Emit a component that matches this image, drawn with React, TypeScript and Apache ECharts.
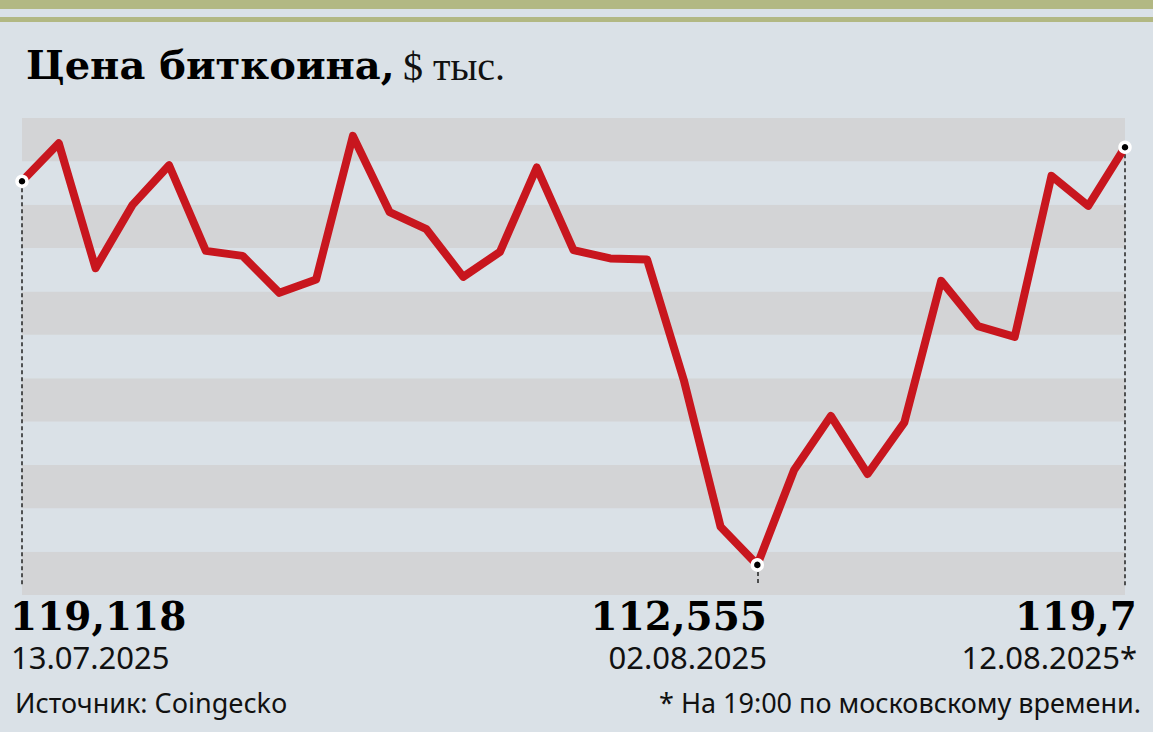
import React, { useEffect, useRef } from "react";
import * as echarts from "echarts";

const dates = [
  "13.07.2025","14.07.2025","15.07.2025","16.07.2025","17.07.2025","18.07.2025","19.07.2025",
  "20.07.2025","21.07.2025","22.07.2025","23.07.2025","24.07.2025","25.07.2025","26.07.2025",
  "27.07.2025","28.07.2025","29.07.2025","30.07.2025","31.07.2025","01.08.2025","02.08.2025",
  "03.08.2025","04.08.2025","05.08.2025","06.08.2025","07.08.2025","08.08.2025","09.08.2025",
  "10.08.2025","11.08.2025","12.08.2025",
];
const prices = [
  119.118, 119.768, 117.632, 118.709, 119.392, 117.927, 117.842, 117.209, 117.438, 119.893,
  118.589, 118.298, 117.483, 117.91, 119.353, 117.939, 117.797, 117.78, 115.717, 113.209,
  112.555, 114.179, 115.102, 114.11, 114.994, 117.415, 116.64, 116.457, 119.209, 118.697, 119.7,
];
const highlighted = [0, 20, 30];
const highlightText = ["119,118", "112,555", "119,7"];
const highlightDateSuffix = ["", "", "*"];
const yMin = 112.04;
const yMax = 120.2;
const dashEnd = 112.2;
const bandCount = 11;

const title = "Цена биткоина,";
const unit = "$ тыс.";
const source = "Источник: Coingecko";
const note = "* На 19:00 по московскому времени.";

export default function App() {
  const ref = useRef<HTMLDivElement>(null);
  useEffect(() => {
    if (!ref.current) return;
    const chart = echarts.init(ref.current, null, { renderer: "svg" });
    const bigFont = "'DejaVu Serif', serif";
    const sansFont = "'Noto Sans', sans-serif";
    const labelX = [10, 767, 1137];
    const dateX = [11, 767, 1137];
    const labelAlign = ["left", "right", "right"];
    const graphics: any[] = [
      { type: "rect", shape: { x: 0, y: 0, width: 1153, height: 9 }, style: { fill: "#b2b883" } },
      { type: "rect", shape: { x: 0, y: 17, width: 1153, height: 5 }, style: { fill: "#b2b883" } },
      {
        type: "text", left: 26, top: 44,
        style: { text: title, font: `bold 40px ${bigFont}`, fill: "#000" },
      },
      {
        type: "text", left: 403, top: 46,
        style: { text: unit, font: `40px 'Liberation Serif', serif`, fill: "#111" },
      },
      {
        type: "text", left: 15, top: 689,
        style: { text: source, font: `27px ${sansFont}`, fill: "#111" },
      },
      {
        type: "text", right: 12, top: 689,
        style: { text: note, font: `27px ${sansFont}`, fill: "#111", align: "right" },
      },
    ];
    highlighted.forEach((idx, k) => {
      graphics.push({
        type: "text", x: labelX[k], y: 596,
        style: { text: highlightText[k], font: `bold 39px ${bigFont}`, fill: "#000", align: labelAlign[k] },
      });
      graphics.push({
        type: "text", x: dateX[k], y: 641,
        style: { text: dates[idx] + highlightDateSuffix[k], font: `31px ${sansFont}`, fill: "#111", align: labelAlign[k] },
      });
    });

    chart.setOption({
      animation: false,
      backgroundColor: "#dae1e7",
      grid: { left: 22, right: 28, top: 118, bottom: 137 },
      xAxis: { type: "category", data: dates, boundaryGap: false, show: false },
      yAxis: [
        { type: "value", min: yMin, max: yMax, show: false },
        {
          type: "value", min: 0, max: bandCount, interval: 1, position: "right",
          axisLabel: { show: false }, axisLine: { show: false }, axisTick: { show: false },
          splitLine: { show: false },
          splitArea: { show: true, areaStyle: { color: ["#d3d4d6", "#dae1e7"] } },
        },
      ],
      series: [
        {
          type: "line", data: prices, yAxisIndex: 0, symbol: "none",
          lineStyle: { color: "#c8161e", width: 8, cap: "round", join: "round" },
          z: 3,
        },
        {
          type: "scatter", yAxisIndex: 0, z: 4,
          data: highlighted.map((i) => [i, prices[i]]),
          symbolSize: 10,
          itemStyle: { color: "#000", borderColor: "#fff", borderWidth: 3.5, opacity: 1 },
          markLine: {
            silent: true, symbol: "none", z: 2,
            label: { show: false },
            lineStyle: { color: "#222", width: 1.5, type: [4, 3] },
            data: highlighted.map((i) => [
              { coord: [i, prices[i]] },
              { coord: [i, dashEnd] },
            ]),
          },
        },
      ],
      graphic: graphics,
    });
    return () => chart.dispose();
  }, []);
  return (
    <div
      ref={ref}
      style={{ position: "fixed", left: 0, top: 0, width: 1153, height: 732 }}
    />
  );
}
